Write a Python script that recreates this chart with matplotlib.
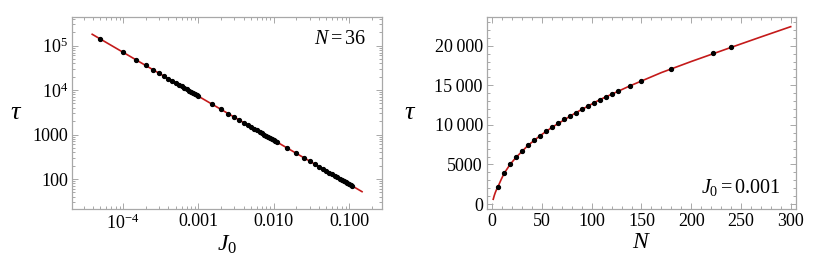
import numpy as np
import matplotlib as mpl
mpl.use('Agg')
import matplotlib.pyplot as plt

plt.rcParams['font.family'] = ['Liberation Serif', 'DejaVu Serif']
plt.rcParams['mathtext.fontset'] = 'custom'
plt.rcParams['mathtext.rm'] = 'Liberation Serif'
plt.rcParams['mathtext.it'] = 'Liberation Serif:italic'

# ---- left panel: tau vs J0 (N = 36) ----
j0_pts = [5e-5,
          1e-4, 1.5e-4, 2e-4, 2.5e-4, 3e-4, 3.5e-4, 4e-4, 4.5e-4, 5e-4, 5.5e-4,
          6e-4, 6.5e-4, 7e-4, 7.5e-4, 8e-4, 8.5e-4, 9e-4, 9.5e-4, 1e-3,
          0.0015, 0.002, 0.0025, 0.003, 0.0035, 0.004, 0.0045, 0.005, 0.0055,
          0.006, 0.0065, 0.007, 0.0075, 0.008, 0.0085, 0.009, 0.0095, 0.010,
          0.0105, 0.011,
          0.015, 0.02, 0.025, 0.03, 0.035, 0.04, 0.045, 0.05, 0.055, 0.06,
          0.065, 0.07, 0.075, 0.08, 0.085, 0.09, 0.095, 0.10, 0.105, 0.11]
tau_pts = [140000,
           71000, 47700, 36000, 28800, 24000, 20600, 18100, 16100, 14500, 13200,
           12100, 11200, 10400, 9710, 9110, 8580, 8110, 7680, 7300,
           4890, 3690, 2960, 2470, 2120, 1860, 1650, 1490, 1360,
           1240, 1150, 1070, 997, 935, 881, 832, 789, 750,
           714, 683,
           503, 379, 304, 253, 218, 191, 170, 153, 139, 128,
           118, 110, 102, 96, 90, 85, 81, 77, 74, 71]
fit_j0 = [3.9e-5, 0.149]
fit_tau = [1.8e5, 52]

# ---- right panel: tau vs N (J0 = 0.001) ----
n_pts = [6, 12, 18, 24, 30, 36, 42, 48, 54, 60, 66, 72, 78, 84, 90, 96, 102,
         108, 114, 120, 126, 138, 150, 180, 222, 240]
tauN_pts = [2180, 3880, 5010, 5900, 6690, 7410, 8040, 8620, 9180, 9680, 10190,
            10690, 11110, 11530, 11950, 12370, 12750, 13170, 13510, 13850,
            14230, 14900, 15530, 17080, 19020, 19780]
fit_n = [1, 2, 3, 4, 6, 9, 12, 18, 24, 36, 48, 60, 84, 108, 138, 170, 200,
         240, 270, 300]
fit_tauN = [600, 1050, 1420, 1730, 2250, 3100, 3880, 5010, 5900, 7410, 8620,
            9680, 11530, 13170, 14900, 16600, 18000, 19780, 21100, 22400]

red = '#c41a1a'
frame = '#a8a8a8'

fig = plt.figure(figsize=(8.3, 2.65), dpi=100)
ax1 = fig.add_axes([0.0867, 0.2113, 0.3735, 0.7245])
ax2 = fig.add_axes([0.5867, 0.2113, 0.3723, 0.7245])

def style(ax):
    for s in ax.spines.values():
        s.set_color(frame)
        s.set_linewidth(0.9)
    ax.tick_params(which='both', direction='in', top=True, right=True,
                   color=frame, labelsize=13, width=0.7)
    ax.tick_params(which='major', length=4, pad=3)
    ax.tick_params(which='minor', length=2)

ax1.plot(fit_j0, fit_tau, color=red, lw=1.2, zorder=2)
ax1.plot(j0_pts, tau_pts, 'o', color='black', ms=2.8, zorder=3)
ax1.set_xscale('log')
ax1.set_yscale('log')
ax1.set_xlim(2.1e-5, 0.274)
ax1.set_ylim(21.2, 4.4e5)
style(ax1)
ax1.set_xticks([1e-4, 1e-3, 1e-2, 1e-1])
ax1.set_xticklabels([r'$10^{-4}$', '0.001', '0.010', '0.100'])
ax1.set_yticks([100, 1000, 1e4, 1e5])
ax1.set_yticklabels(['100', '1000', r'$10^{4}$', r'$10^{5}$'])
ax1.set_xlabel(r'$J_0$', fontsize=17, labelpad=1)
ax1.set_ylabel('τ', fontsize=19, style='italic', rotation=0, labelpad=12,
               va='center')
ax1.text(0.95, 0.885, r'$N=36$', transform=ax1.transAxes, ha='right',
         va='center', fontsize=14.5)

ax2.plot(fit_n, fit_tauN, color=red, lw=1.2, zorder=2)
ax2.plot(n_pts, tauN_pts, 'o', color='black', ms=2.8, zorder=3)
ax2.set_xlim(-5.3, 305.3)
ax2.set_ylim(-630, 23620)
style(ax2)
ax2.set_xticks([0, 50, 100, 150, 200, 250, 300])
ax2.set_xticks(np.arange(0, 301, 10), minor=True)
ax2.set_yticks([0, 5000, 10000, 15000, 20000])
ax2.set_yticklabels(['0', '5000', '10\u2009000', '15\u2009000', '20\u2009000'])
ax2.set_yticks(np.arange(0, 23001, 1000), minor=True)
ax2.set_xlabel(r'$N$', fontsize=17, labelpad=1)
ax2.set_ylabel('τ', fontsize=19, style='italic', rotation=0, labelpad=18,
               va='center')
ax2.text(0.95, 0.11, r'$J_0=0.001$', transform=ax2.transAxes, ha='right',
         va='center', fontsize=14.5)

fig.savefig('out.png', dpi=100)
